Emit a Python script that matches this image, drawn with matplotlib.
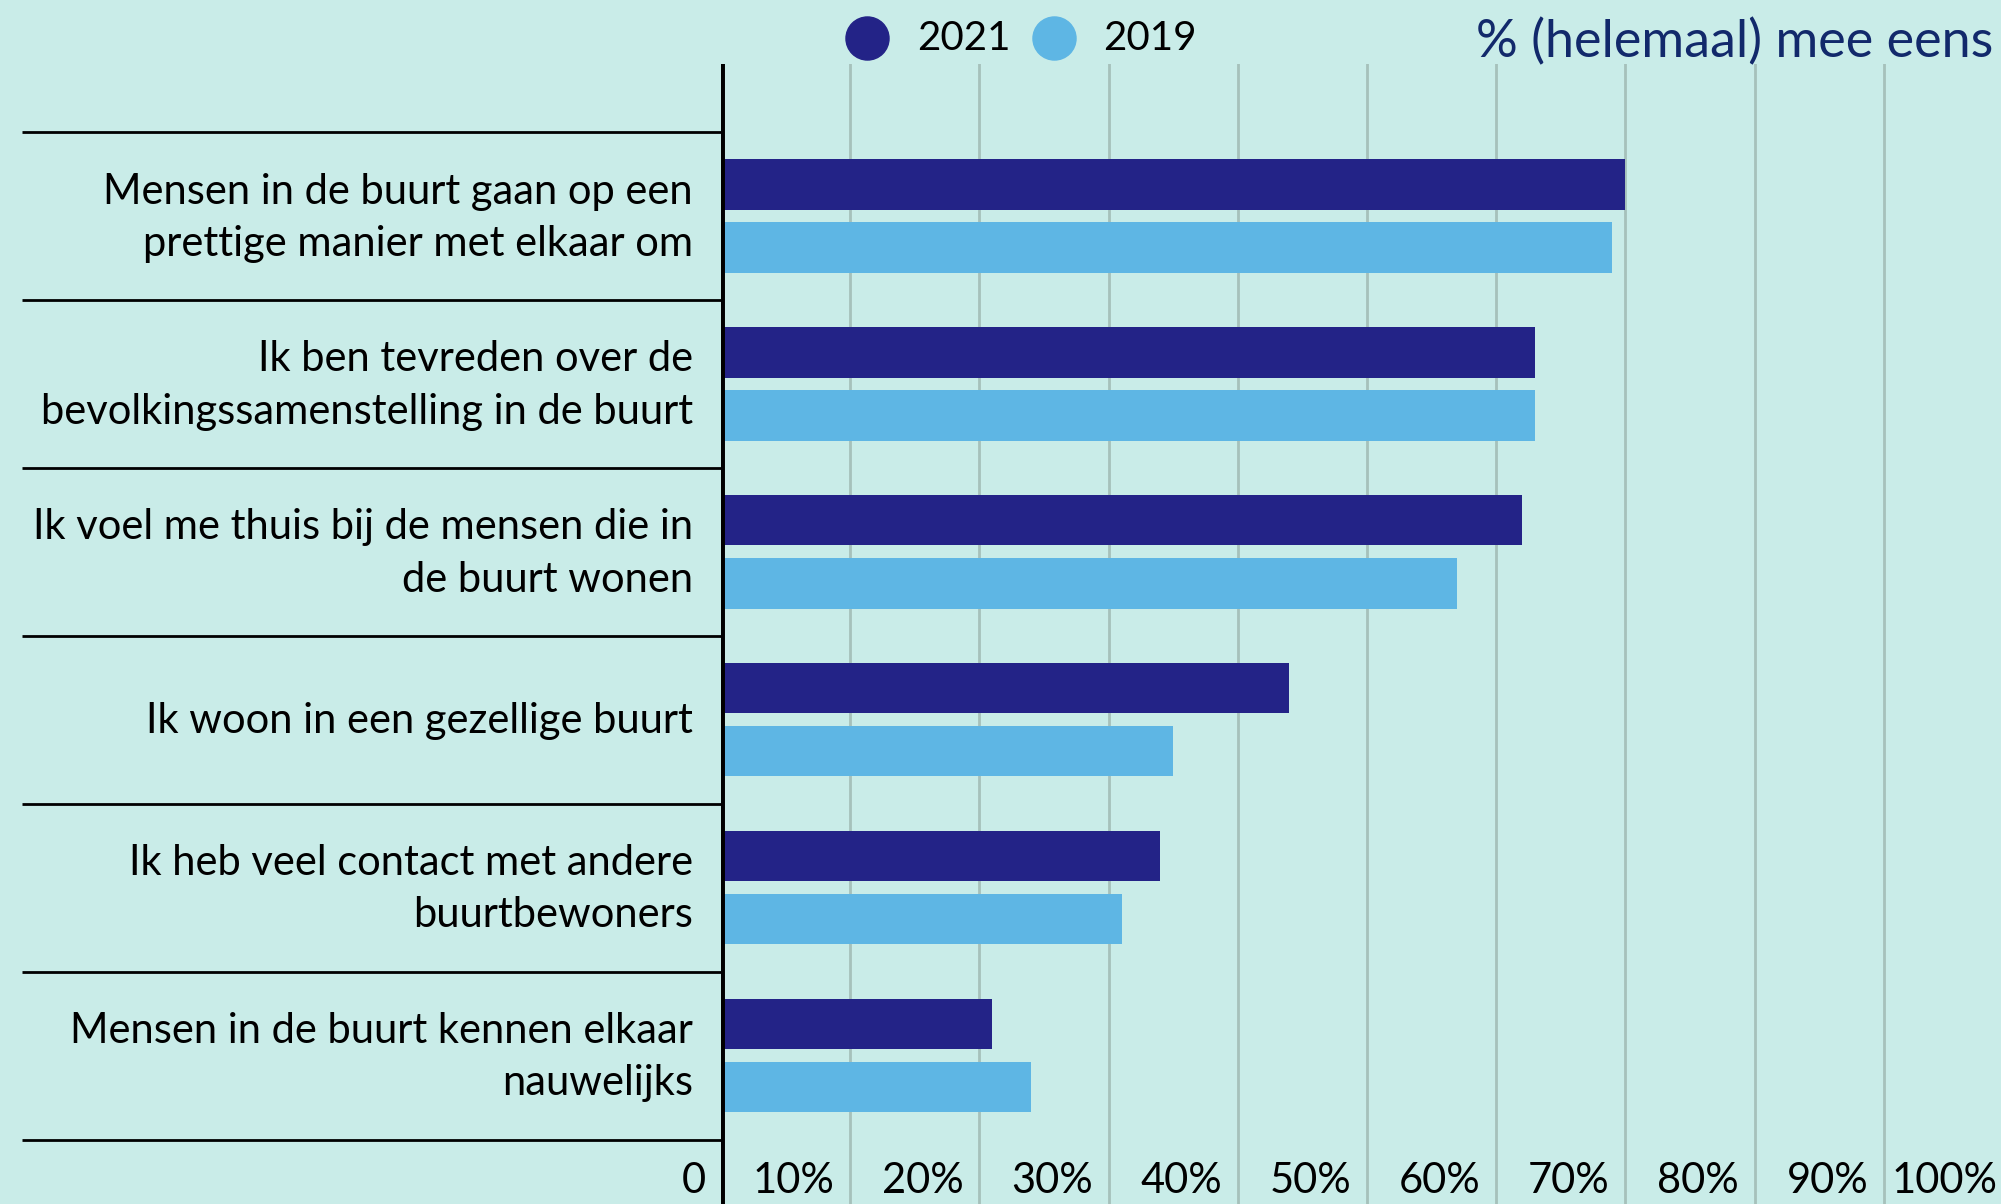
import matplotlib.pyplot as plt
import numpy as np
from matplotlib import transforms

# data
categories = [
    'Mensen in de buurt gaan op een\nprettige manier met elkaar om',
    'Ik ben tevreden over de\nbevolkingssamenstelling in de buurt',
    'Ik voel me thuis bij de mensen die in\nde buurt wonen',
    'Ik woon in een gezellige buurt',
    'Ik heb veel contact met andere\nbuurtbewoners',
    'Mensen in de buurt kennen elkaar\nnauwelijks',
]
vals_2021 = [70, 63, 62, 44, 34, 21]
vals_2019 = [69, 63, 57, 35, 31, 24]
series_labels = ['2021', '2019']
tick_vals = [0, 10, 20, 30, 40, 50, 60, 70, 80, 90, 100]
tick_labels = ['0', '10%', '20%', '30%', '40%', '50%', '60%', '70%', '80%', '90%', '100%']
title = '% (helemaal) mee eens'

bg = '#c9ece8'
c_2021 = '#232387'
c_2019 = '#5eb6e4'
grid_c = '#a6c1bb'
title_c = '#12296b'

plt.rcParams['font.family'] = ['Lato', 'DejaVu Sans']

W, H = 2001, 1204
fig = plt.figure(figsize=(W / 100, H / 100), dpi=100, facecolor=bg)

# axes placed in pixels: x=0 at 721px, 100% at 2013px; top at 64px, bottom at figure bottom
ax = fig.add_axes([721 / W, 0, (2013 - 721) / W, 1 - 64 / H])
ax.set_facecolor(bg)
ax.set_xlim(0, 100)
ax.set_ylim(5.884, -0.905)

y = np.arange(len(categories))
off = 0.188
bh = 0.30
ax.barh(y - off, vals_2021, height=bh, color=c_2021, zorder=3)
ax.barh(y + off, vals_2019, height=bh, color=c_2019, zorder=3)

# vertical gridlines
for v in tick_vals[1:]:
    ax.axvline(v, color=grid_c, lw=2.0, zorder=1)
# main axis line
ax.axvline(0, color='black', lw=5.0, zorder=4)

for s in ax.spines.values():
    s.set_visible(False)
ax.set_xticks([])
ax.set_yticks([])

# separators between categories, extending into the label area
trans = transforms.blended_transform_factory(ax.transAxes, ax.transData)
left_frac = (22 - 721) / (2013 - 721)
for b in np.arange(len(categories) + 1) - 0.5:
    ax.plot([left_frac, 0], [b, b], color='black', lw=2.0, transform=trans,
            clip_on=False, zorder=4, solid_capstyle='butt')

# category labels
lab_x = (693 - 721) / (2013 - 721)
for yi, lab in zip(y, categories):
    ax.text(lab_x, yi + 0.01, lab, transform=trans, ha='right', va='center',
            multialignment='right', fontsize=30, linespacing=1.46, color='black')

# x tick labels inside the bottom band
for v, t in zip(tick_vals, tick_labels):
    ax.text(v - 1.2, 5.819, t, ha='right', va='baseline', fontsize=30,
            color='black', clip_on=False)

# legend at top
fig_y = 1 - 38 / H
for cx, tx, col, lab in [(867, 917, c_2021, series_labels[0]),
                         (1054, 1103, c_2019, series_labels[1])]:
    fig.add_artist(plt.Line2D([cx / W], [fig_y], marker='o', markersize=31,
                              color=col, lw=0, transform=fig.transFigure))
    fig.text(tx / W, 1 - 39 / H, lab, ha='left', va='center', fontsize=29, color='black')

fig.text(1476 / W, 1 - 57 / H, title, ha='left', va='baseline', fontsize=37.5, color=title_c)

fig.savefig('out.png', dpi=100, facecolor=bg)
